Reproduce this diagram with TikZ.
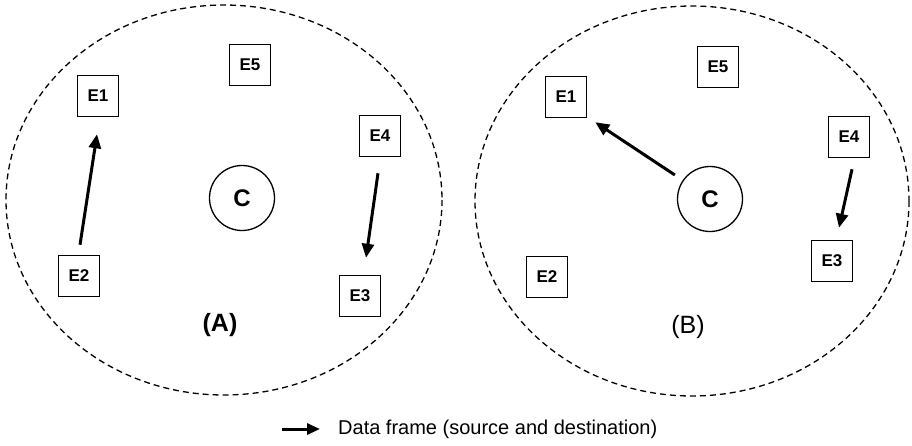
\documentclass[tikz,border=0pt]{standalone}
\usepackage{fontspec}
\setmainfont{Liberation Sans}
\usetikzlibrary{arrows.meta,calc}
\begin{document}
\begin{tikzpicture}[x=1pt,y=-1pt,
  ebox/.style={draw,line width=1.5pt,minimum size=41pt,inner sep=0pt,font=\fontsize{17}{20}\selectfont\bfseries},
  ccirc/.style={draw,circle,line width=1.3pt,minimum size=65pt,inner sep=0pt,font=\fontsize{24}{28}\selectfont\bfseries},
  region/.style={draw,dash pattern=on 6pt off 4pt,line width=1.3pt},
  frame/.style={line width=3pt,-{Triangle[length=14pt,width=12pt]}},
  plabel/.style={font=\fontsize{25}{29}\selectfont}
]
\useasboundingbox (0,0) rectangle (912,445);
% Part A
\draw[region] (224,200) ellipse [x radius=218, y radius=195];
\node[ebox] (A1) at (98,96) {E1};
\node[ebox] (A5) at (250,65) {E5};
\node[ebox] (A4) at (380,136) {E4};
\node[ebox] (A2) at (79,276) {E2};
\node[ebox] (A3) at (360,296) {E3};
\node[ccirc] (AC) at (242,198) {C};
\node[plabel,font=\fontsize{25}{29}\selectfont\bfseries] (LA) at (220,325) {(A)};
\draw[frame] ($(A2.north)+(1,-10)$) -- ($(A1.south)+(-1,17)$);
\draw[frame] ($(A4.south)+(-2,16)$) -- ($(A3.north)+(6,-17)$);
% Part B
\draw[region] (692,201) ellipse [x radius=217, y radius=195];
\node[ebox] (B1) at (566,97) {E1};
\node[ebox] (B5) at (718,67) {E5};
\node[ebox] (B4) at (849,137) {E4};
\node[ebox] (B2) at (547,277) {E2};
\node[ebox] (B3) at (832,261) {E3};
\node[ccirc] (BC) at (710,199) {C};
\node[plabel] (LB) at (688,327) {(B)};
\draw[frame] ($(BC.145)+(-8,-5)$) -- ($(B1.south east)+(8,4)$);
\draw[frame] ($(B4.south)+(3,11)$) -- ($(B3.north)+(7,-12)$);
% Legend
\coordinate (L1) at (282,429);
\coordinate (L2) at (320,429);
\draw[line width=3pt,-{Triangle[length=13pt,width=11pt]}] (L1) -- (L2);
\node[anchor=west,inner sep=0pt,font=\fontsize{20}{24}\selectfont] (LT) at (338,429) {Data frame (source and destination)};
\end{tikzpicture}
\end{document}
